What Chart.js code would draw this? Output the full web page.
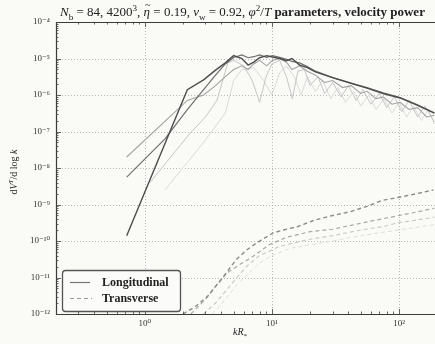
<!DOCTYPE html>
<html>
<head>
<meta charset="utf-8">
<script src="https://cdn.jsdelivr.net/npm/chart.js@4.4.1/dist/chart.umd.min.js"></script>
<style>
  html, body { margin: 0; padding: 0; background: #fafaf7; overflow: hidden; }
  canvas { display: block; }
</style>
</head>
<body>
<canvas id="myChart" width="435" height="344"></canvas>
<script>
// Longitudinal spectra (solid), kR* vs dV/dlog k
const kL1 = [0.72, 2.16, 2.9, 3.6, 4.3, 5.0, 5.8, 6.5, 7.2, 8.0, 9.1, 10.1, 11.5, 13, 14.4, 16.5, 19, 22, 30, 42, 56, 75, 102, 140, 190];
const vL1 = [1.4e-10, 1.4e-6, 2.6e-6, 4.8e-6, 7.6e-6, 1.2e-5, 1.0e-5, 6.6e-6, 8.0e-6, 1.05e-5, 1.2e-5, 1.1e-5, 1.0e-5, 8.7e-6, 1.0e-5, 6.6e-6, 5.6e-6, 4.3e-6, 3.0e-6, 2.1e-6, 1.55e-6, 1.1e-6, 8.3e-7, 5.2e-7, 3.2e-7];

const kL2 = [0.72, 1.44, 2.16, 2.9, 3.6, 4.3, 5.0, 5.8, 6.5, 7.2, 8.0, 9.1, 10.1, 11.5, 13, 14.4, 16.5, 19, 22, 30, 42, 56, 75, 102, 140, 190];
const vL2 = [5.6e-9, 6.3e-8, 4.0e-7, 1.4e-6, 3.5e-6, 7.1e-6, 1.07e-5, 1.26e-5, 1.05e-5, 1.12e-5, 1.26e-5, 1.07e-5, 1.2e-5, 1.07e-5, 9.5e-6, 8.3e-6, 7.6e-6, 6.0e-6, 4.5e-6, 3.0e-6, 2.1e-6, 1.6e-6, 1.15e-6, 8.5e-7, 5.4e-7, 3.2e-7];

const kL3 = [0.72, 2.16, 2.9, 3.6, 4.3, 5.0, 5.8, 6.5, 7.2, 8.0, 9.1, 10.1, 11.5, 13, 14.4, 16.5, 19, 22, 26, 30, 36, 42, 50, 56, 66, 75, 88, 102, 120, 140, 165, 190];
const vL3 = [2.0e-8, 7.1e-7, 1.0e-6, 1.8e-6, 3.2e-6, 5.0e-6, 6.3e-6, 5.0e-6, 7.1e-6, 8.9e-6, 6.3e-6, 8.9e-6, 1.0e-5, 7.9e-6, 5.0e-6, 6.3e-6, 4.5e-6, 3.5e-6, 2.2e-6, 2.5e-6, 1.6e-6, 1.8e-6, 1.1e-6, 1.26e-6, 7.9e-7, 8.9e-7, 5.6e-7, 6.3e-7, 4.0e-7, 4.5e-7, 2.5e-7, 2.8e-7];

const kL4 = [1.1, 2.2, 3.0, 3.7, 4.5, 5.0, 6.0, 7.0, 8.0, 9.0, 10, 11.5, 13, 14.5, 16, 18, 20, 23, 26, 30, 35, 40, 46, 52, 60, 70, 80, 92, 105, 120, 140, 160, 190];
const vL4 = [4.0e-9, 7.9e-8, 2.5e-7, 7.2e-7, 7.6e-6, 8.9e-6, 6.3e-6, 2.5e-6, 6.3e-7, 3.2e-6, 7.1e-6, 8.9e-6, 3.2e-6, 7.9e-7, 4.5e-6, 5.0e-6, 1.8e-6, 3.2e-6, 1.1e-6, 2.2e-6, 8.9e-7, 1.8e-6, 7.1e-7, 1.4e-6, 5.6e-7, 1.1e-6, 4.5e-7, 8.9e-7, 3.5e-7, 7.1e-7, 2.5e-7, 5.0e-7, 1.8e-7];

const kL5 = [1.44, 2.9, 4.3, 5.0, 5.8, 7.2, 8.6, 10, 11.5, 13, 15, 17, 19, 22, 25, 29, 33, 38, 44, 50, 58, 66, 76, 88, 100, 115, 130, 150, 170, 190];
const vL5 = [2.5e-9, 5.0e-8, 3.2e-7, 2.5e-6, 5.0e-6, 5.6e-6, 2.5e-6, 1.0e-6, 4.0e-6, 6.3e-6, 3.2e-6, 1.0e-6, 3.2e-6, 1.26e-6, 2.5e-6, 7.9e-7, 1.6e-6, 6.3e-7, 1.26e-6, 5.0e-7, 1.0e-6, 4.0e-7, 7.9e-7, 3.2e-7, 6.3e-7, 2.5e-7, 5.0e-7, 2.0e-7, 4.0e-7, 1.6e-7];

// Transverse spectra (dashed)
const kT1 = [2.0, 2.5, 3.1, 4.1, 5.2, 6.3, 7.6, 10.2, 12.3, 16, 22, 30, 41, 56, 74, 102, 140, 186];
const vT1 = [1.0e-12, 1.6e-12, 3.0e-12, 1.0e-11, 3.0e-11, 5.6e-11, 8.9e-11, 1.66e-10, 2.0e-10, 2.5e-10, 3.8e-10, 5.0e-10, 6.3e-10, 8.9e-10, 1.3e-9, 1.6e-9, 2.0e-9, 2.5e-9];

const kT2 = [2.3, 3.0, 3.6, 4.4, 5.5, 6.8, 8.3, 9.5, 13, 20, 30, 40, 60, 100, 140, 190];
const vT2 = [1.0e-12, 2.5e-12, 5.6e-12, 1.3e-11, 2.2e-11, 3.4e-11, 5.6e-11, 7.9e-11, 1.26e-10, 1.8e-10, 2.1e-10, 2.6e-10, 3.5e-10, 5.0e-10, 6.3e-10, 7.9e-10];

const kT3 = [2.9, 3.6, 4.5, 5.3, 6.3, 8.0, 11.4, 15, 20, 30, 50, 75, 100, 140, 190];
const vT3 = [1.0e-12, 2.0e-12, 5.0e-12, 1.0e-11, 2.0e-11, 4.0e-11, 7.1e-11, 8.9e-11, 1.12e-10, 1.4e-10, 2.0e-10, 2.5e-10, 3.2e-10, 3.8e-10, 4.5e-10];

const kT4 = [3.4, 4.3, 5.3, 6.5, 8.0, 10, 14, 20, 30, 50, 80, 120, 190];
const vT4 = [1.0e-12, 2.5e-12, 6.3e-12, 1.26e-11, 2.5e-11, 4.0e-11, 6.3e-11, 7.9e-11, 1.0e-10, 1.4e-10, 1.8e-10, 2.2e-10, 2.8e-10];

const xTicks = [1, 10, 100];
const yTicks = [1e-12, 1e-11, 1e-10, 1e-9, 1e-8, 1e-7, 1e-6, 1e-5, 1e-4];
const legendLabels = ['Longitudinal', 'Transverse'];

const serif = '"Liberation Serif", "DejaVu Serif", serif';
const supDigits = '⁻⁰¹²³⁴⁵⁶⁷⁸⁹';
const sup = n => String(n).replace(/[-0-9]/g, c => supDigits['-0123456789'.indexOf(c)]);
const decadeLabel = v => '10' + sup(Math.round(Math.log10(v)));

// runs of [text, style]: i italic, B bold, _ subscript, ^ superscript, ~ tilde accent
function drawRuns(ctx, runs, x, y, size, align) {
  const fontFor = st => (st.includes('i') ? 'italic ' : '') + (st.includes('B') ? 'bold ' : '') +
    ((st.includes('_') || st.includes('^')) ? size * 0.7 : size) + 'px ' + serif;
  let total = 0;
  runs.forEach(([t, st]) => { ctx.font = fontFor(st); total += ctx.measureText(t).width; });
  let cx = align === 'center' ? x - total / 2 : x;
  ctx.textAlign = 'left';
  runs.forEach(([t, st]) => {
    ctx.font = fontFor(st);
    const dy = st.includes('_') ? size * 0.28 : st.includes('^') ? -size * 0.4 : 0;
    const w = ctx.measureText(t).width;
    ctx.fillText(t, cx, y + dy);
    if (st.includes('~')) {
      ctx.font = (size * 0.8) + 'px ' + serif;
      ctx.textAlign = 'center';
      ctx.fillText('~', cx + w / 2 + 1, y - size * 0.62);
      ctx.textAlign = 'left';
    }
    cx += w;
  });
}

const line = (k, v, color, width, dash) => ({
  data: k.map((x, i) => ({ x, y: v[i] })),
  borderColor: color,
  borderWidth: width,
  borderDash: dash || [],
  pointRadius: 0,
  tension: 0,
  fill: false,
});

const decor = {
  id: 'decor',
  beforeDraw(chart) {
    const { ctx, width, height } = chart;
    ctx.save();
    ctx.fillStyle = '#fafaf7';
    ctx.fillRect(0, 0, width, height);
    ctx.restore();
  },
  beforeDatasetsDraw(chart) {
    const { ctx, chartArea: a, scales: { x, y } } = chart;
    ctx.save();
    ctx.strokeStyle = '#b8b8b8';
    ctx.lineWidth = 1;
    ctx.setLineDash([1, 2]);
    xTicks.forEach(v => {
      const px = Math.round(x.getPixelForValue(v)) + 0.5;
      ctx.beginPath(); ctx.moveTo(px, a.top); ctx.lineTo(px, a.bottom); ctx.stroke();
    });
    yTicks.slice(1, -1).forEach(v => {
      const py = Math.round(y.getPixelForValue(v)) + 0.5;
      ctx.beginPath(); ctx.moveTo(a.left, py); ctx.lineTo(a.right, py); ctx.stroke();
    });
    ctx.restore();
  },
  afterDatasetsDraw(chart) {
    const { ctx, chartArea: a, scales: { x, y } } = chart;
    ctx.save();
    // frame
    ctx.strokeStyle = '#3a3a3a';
    ctx.lineWidth = 1.2;
    ctx.beginPath();
    ctx.moveTo(a.right + 2, a.top + 0.5); ctx.lineTo(a.left + 0.5, a.top + 0.5);
    ctx.lineTo(a.left + 0.5, a.bottom + 0.5); ctx.lineTo(a.right + 2, a.bottom + 0.5);
    ctx.stroke();
    // inward tick marks, major and minor
    ctx.lineWidth = 0.8;
    ctx.strokeStyle = '#444';
    for (let e = -1; e <= 2; e++) {
      for (let m = 1; m <= 9; m++) {
        const v = m * Math.pow(10, e);
        if (v < x.min || v > x.max) continue;
        const px = Math.round(x.getPixelForValue(v)) + 0.5;
        const len = m === 1 ? 5 : 2.5;
        ctx.beginPath(); ctx.moveTo(px, a.bottom); ctx.lineTo(px, a.bottom - len);
        ctx.moveTo(px, a.top); ctx.lineTo(px, a.top + len); ctx.stroke();
      }
    }
    for (let e = -12; e <= -4; e++) {
      for (let m = 1; m <= 9; m++) {
        const v = m * Math.pow(10, e);
        if (v < y.min || v > y.max) continue;
        const py = Math.round(y.getPixelForValue(v)) + 0.5;
        const len = m === 1 ? 5 : 2.5;
        ctx.beginPath(); ctx.moveTo(a.left, py); ctx.lineTo(a.left + len, py); ctx.stroke();
      }
    }
    // legend box
    const bx = 62, by = 270, bw = 118, bh = 41;
    ctx.setLineDash([]);
    ctx.fillStyle = '#fbfbf9';
    ctx.strokeStyle = '#555';
    ctx.lineWidth = 1.3;
    ctx.beginPath();
    ctx.roundRect(bx + 0.5, by + 0.5, bw, bh, 3);
    ctx.fill(); ctx.stroke();
    ctx.lineWidth = 1.2;
    ctx.strokeStyle = '#777';
    ctx.beginPath(); ctx.moveTo(70, 282.5); ctx.lineTo(90, 282.5); ctx.stroke();
    ctx.strokeStyle = '#999';
    ctx.setLineDash([4, 3]);
    ctx.beginPath(); ctx.moveTo(70, 298.5); ctx.lineTo(92, 298.5); ctx.stroke();
    ctx.setLineDash([]);
    ctx.fillStyle = '#222';
    ctx.font = 'bold 12px ' + serif;
    ctx.textBaseline = 'middle';
    ctx.textAlign = 'left';
    ctx.fillText(legendLabels[0], 102, 283);
    ctx.fillText(legendLabels[1], 102, 299);
    ctx.restore();
  },
  afterDraw(chart) {
    const { ctx } = chart;
    ctx.save();
    ctx.fillStyle = '#222';
    ctx.textBaseline = 'alphabetic';
    drawRuns(ctx, [
      ['N', 'i'], ['b', '_'], [' = 84, 4200', ''], ['3', '^'], [', ', ''], ['η', 'i~'],
      [' = 0.19, ', ''], ['v', 'i'], ['w', '_'], [' = 0.92, ', ''], ['φ', 'i'], ['2', '^'],
      ['/', ''], ['T', 'i'], [' parameters, velocity power', 'B'],
    ], 60, 16, 13, 'left');
    drawRuns(ctx, [['kR', 'i'], ['*', '_']], 240, 335, 10, 'center');
    ctx.translate(17, 172);
    ctx.rotate(-Math.PI / 2);
    drawRuns(ctx, [['d', ''], ['V', 'i'], ['T', 'i^'], ['/d log ', ''], ['k', 'i']], 0, 0, 10, 'center');
    ctx.restore();
  },
};

const ctx = document.getElementById('myChart').getContext('2d');

const myChart = new Chart(ctx, {
  type: 'line',
  data: {
    datasets: [
      line(kL1, vL1, '#4d4d4d', 1.4),
      line(kL2, vL2, '#6f6f6f', 1.2),
      line(kT1, vT1, '#8a8a8a', 1.4, [4, 3]),
      line(kL3, vL3, '#a3a3a3', 1.1),
      line(kT2, vT2, '#a8a8a8', 1.2, [4, 3]),
      line(kL4, vL4, '#c6c6c6', 1.0),
      line(kT3, vT3, '#c6c6c6', 1.1, [4, 3]),
      line(kL5, vL5, '#dadada', 1.0),
      line(kT4, vT4, '#dedede', 1.0, [4, 3]),
    ],
  },
  options: {
    responsive: false,
    animation: false,
    layout: { padding: { top: 22, right: 0, left: 0, bottom: 0 } },
    plugins: {
      legend: { display: false },
      tooltip: { enabled: false },
    },
    scales: {
      x: {
        type: 'logarithmic',
        min: 0.2,
        max: 192,
        grid: { display: false, drawTicks: false },
        border: { display: false },
        afterBuildTicks: s => { s.ticks = xTicks.map(value => ({ value })); },
        afterFit: s => { s.height = 30; },
        ticks: {
          autoSkip: false,
          maxRotation: 0,
          padding: 4,
          color: '#333',
          font: { family: serif, size: 9 },
          callback: v => decadeLabel(v),
        },
      },
      y: {
        type: 'logarithmic',
        min: 1e-12,
        max: 1e-4,
        grid: { display: false, drawTicks: false },
        border: { display: false },
        afterBuildTicks: s => { s.ticks = yTicks.map(value => ({ value })); },
        afterFit: s => { s.width = 56; },
        ticks: {
          autoSkip: false,
          padding: 6,
          color: '#333',
          font: { family: serif, size: 9 },
          callback: v => decadeLabel(v),
        },
      },
    },
  },
  plugins: [decor],
});
</script>
</body>
</html>
